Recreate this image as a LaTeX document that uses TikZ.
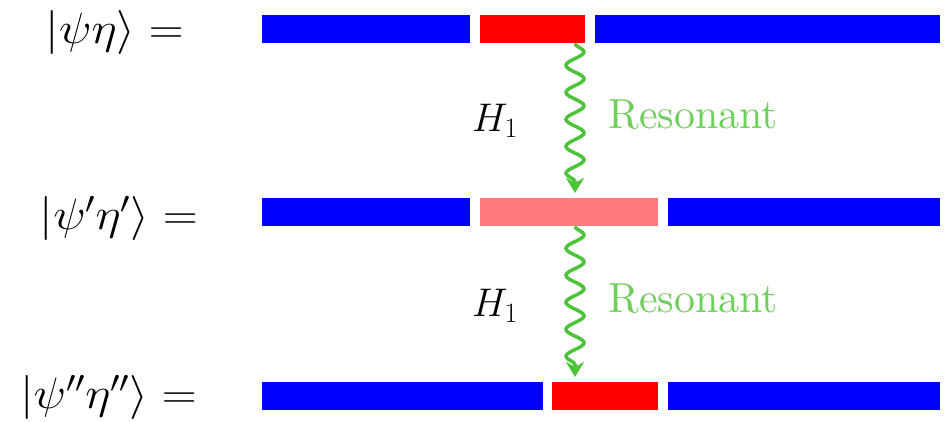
\RequirePackage{fix-cm}
\documentclass[tikz,border=0pt]{standalone}
\usepackage{fontspec}
\newfontfamily\lmten{lmroman10-regular}[Extension=.otf]
\usetikzlibrary{decorations.pathmorphing,arrows.meta}
\definecolor{barblue}{RGB}{0,0,255}
\definecolor{barred}{RGB}{255,0,0}
\definecolor{barpink}{RGB}{255,122,122}
\definecolor{wavegreen}{RGB}{76,196,56}
\definecolor{resgreen}{RGB}{110,208,90}
\tikzset{
  bar/.style={inner sep=0pt, minimum height=28pt, anchor=north west},
  statelbl/.style={inner sep=0pt, anchor=base east, font=\fontsize{44}{52}\selectfont},
  hlbl/.style={inner sep=0pt, anchor=base west, font=\fontsize{40}{48}\selectfont},
  reslbl/.style={inner sep=0pt, anchor=base west, text=resgreen, font=\lmten\fontsize{42}{48}\selectfont},
  wave/.style={draw=wavegreen, line width=3.5pt,
    decoration={snake, segment length=27pt, amplitude=9pt, post length=14pt},
    decorate, -{Stealth[length=15pt,width=18pt]}, shorten >=5pt}
}
\begin{document}
\begin{tikzpicture}[x=1pt,y=-1pt]
\useasboundingbox (0,0) rectangle (951,421);
% row 1
\node[bar, fill=barblue, minimum width=208pt] (b1l) at (262,15) {};
\node[bar, fill=barred, minimum width=105pt] (r1) at (480,15) {};
\node[bar, fill=barblue, minimum width=345pt] (b1r) at (595,15) {};
% row 2
\node[bar, fill=barblue, minimum width=208pt] (b2l) at (262,198) {};
\node[bar, fill=barpink, minimum width=178pt] (p2) at (480,198) {};
\node[bar, fill=barblue, minimum width=272pt] (b2r) at (668,198) {};
% row 3
\node[bar, fill=barblue, minimum width=281pt] (b3l) at (262,382) {};
\node[bar, fill=barred, minimum width=106pt] (r3) at (552,382) {};
\node[bar, fill=barblue, minimum width=272pt] (b3r) at (668,382) {};
% labels
\node[statelbl] (s1) at (184,43) {\scalebox{1.1}[1]{$|\psi\eta\rangle =$}};
\node[statelbl] (s2) at (198,229) {\scalebox{1.1}[1]{$|\psi'\eta'\rangle =$}};
\node[statelbl] (s3) at (197,408) {\scalebox{1.1}[1]{$|\psi''\eta''\rangle =$}};
% arrows
\coordinate (ax) at (575,0);
\draw[wave] (r1.south -| ax) -- (p2.north -| ax);
\draw[wave] (p2.south -| ax) -- (r3.north -| ax);
\node[hlbl] (h1) at (472,131) {$H_1$};
\node[hlbl] (h2) at (472,316) {$H_1$};
\node[reslbl] (res1) at (608,128) {Resonant};
\node[reslbl] (res2) at (608,312) {Resonant};
\end{tikzpicture}
\end{document}
